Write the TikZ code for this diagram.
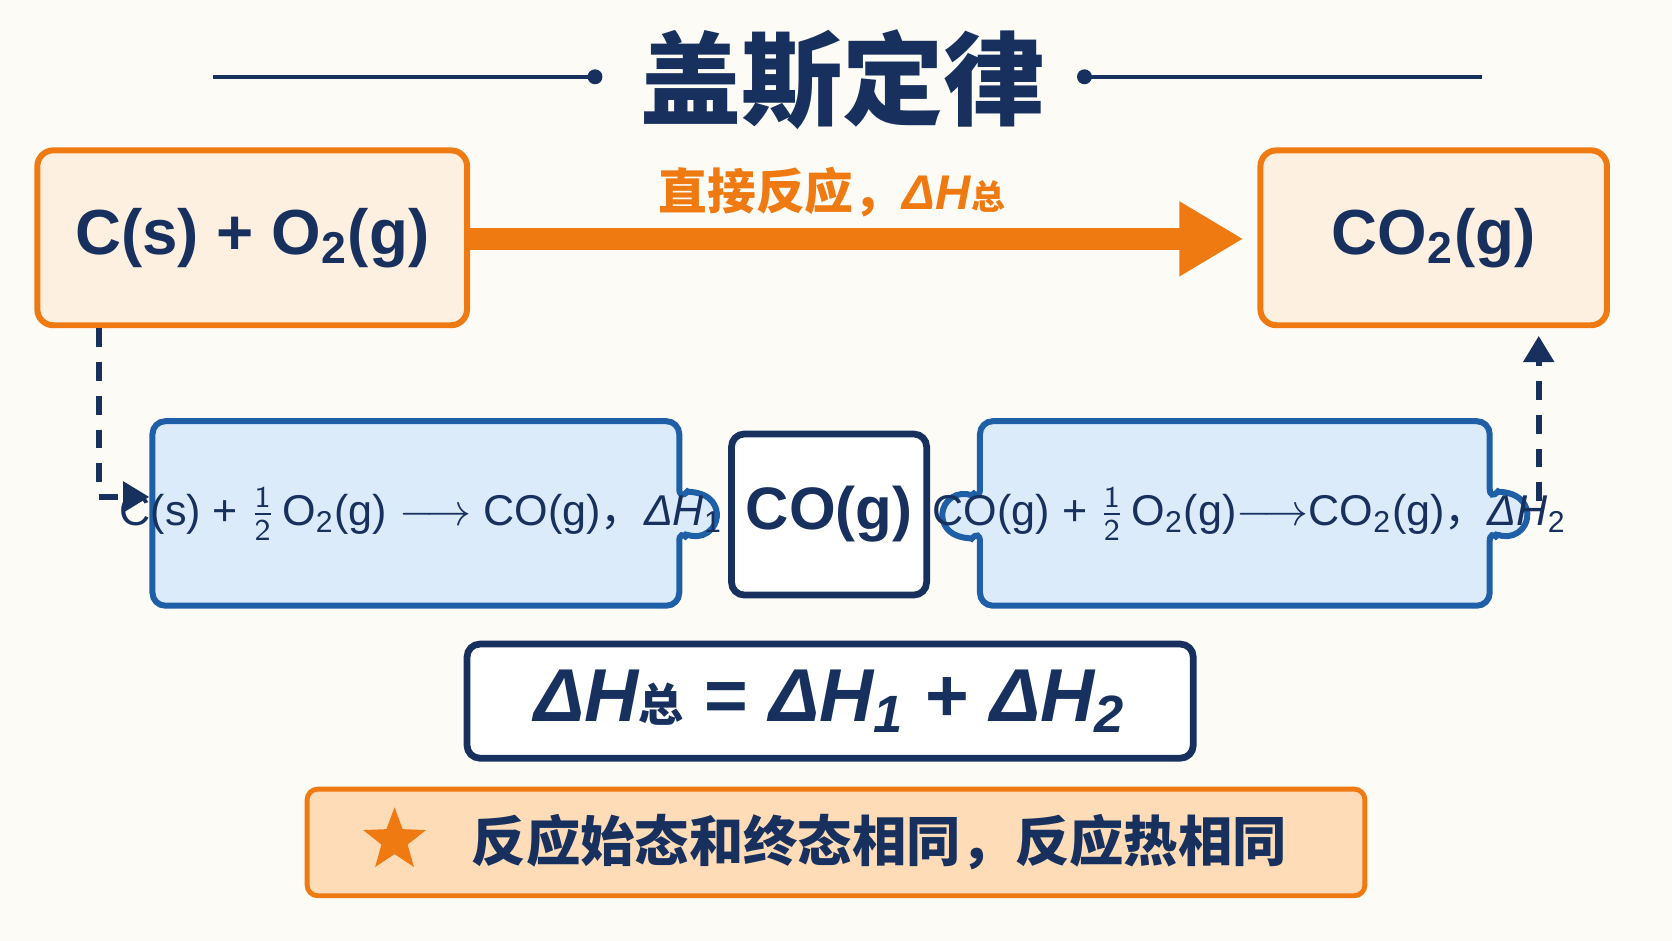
\documentclass[tikz,border=0pt]{standalone}
\usepackage{fontspec}
\setmainfont{Liberation Sans}
\newfontfamily\cjk{Noto Sans CJK SC}
\usetikzlibrary{shapes.geometric,arrows.meta}
\definecolor{navy}{HTML}{17305E}
\definecolor{org}{HTML}{F07A12}
\definecolor{orgfill}{HTML}{FDF0E0}
\definecolor{blu}{HTML}{1F5FA8}
\definecolor{blufill}{HTML}{DCEBFA}
\definecolor{bg}{HTML}{FDFBF6}
\begin{document}
\begin{tikzpicture}[
 obox/.style={draw=org,fill=orgfill,line width=1.6pt,rounded corners=0.15cm},
 nbox/.style={draw=navy,fill=white,line width=1.8pt,rounded corners=0.12cm},
 bbox/.style={draw=blu,fill=blufill,line width=1.6pt,rounded corners=0.12cm},
 dashconn/.style={draw=navy,line width=1.5pt,dash pattern=on 5pt off 4pt,-{Triangle[length=7pt,width=8pt]}},
 txt/.style={text=navy,font=\bfseries}]
\fill[bg] (0,0) rectangle (15.68,-8.82);
\useasboundingbox (0,0) rectangle (15.68,-8.82);
% title
\node[txt,font=\cjk\bfseries\fontsize{27}{30}\selectfont] (title) at (7.9,-0.75) {盖斯定律};
\coordinate (ld) at (5.58,-0.72); \coordinate (rd) at (10.17,-0.72);
\draw[navy,line width=1pt] (2.0,-0.72) -- (ld);
\draw[navy,line width=1pt] (rd) -- (13.9,-0.72);
\fill[navy] (ld) circle (0.07) (rd) circle (0.07);
% top boxes
\node[obox,minimum width=4.03cm,minimum height=1.64cm,txt,font=\bfseries\fontsize{17}{20}\selectfont] (A) at (2.365,-2.23) {C(s) + O\textsubscript{2}(g)};
\node[obox,minimum width=3.25cm,minimum height=1.64cm,txt,font=\bfseries\fontsize{17}{20}\selectfont] (B) at (13.445,-2.23) {CO\textsubscript{2}(g)};
\draw[org,line width=6pt,-{Triangle[length=0.6cm,width=0.66cm]}] (A.east|-0,-2.24) -- (11.66,-2.24) coordinate (ae);
\node[text=org,font=\bfseries\fontsize{13}{15}\selectfont] (lab) at (7.8,-1.8) {{\cjk 直接反应，}\textit{ΔH}{\cjk\fontsize{9}{10}\selectfont 总}};
% blue boxes
\draw[bbox] (1.43,-3.95) -- (6.37,-3.95) -- (6.37,-4.70) arc[start angle=140,end angle=-140,radius=0.2] -- (6.37,-5.68) -- (1.43,-5.68) -- cycle;
\node[txt,font=\fontsize{11.5}{13}\selectfont] (e1) at (3.95,-4.82) {C(s) + $\frac{\mathsf{1}}{\mathsf{2}}$\,O\textsubscript{2}(g) $\longrightarrow$ CO(g){\cjk ，}\textit{ΔH}\textsubscript{1}};
\draw[bbox] (9.19,-3.95) -- (13.97,-3.95) -- (13.97,-4.70) arc[start angle=140,end angle=-140,radius=0.2] -- (13.97,-5.68) -- (9.19,-5.68) -- (9.19,-4.96) arc[start angle=-40,end angle=-320,radius=0.2] -- cycle;
\node[txt,font=\fontsize{11.5}{13}\selectfont] (e2) at (11.72,-4.82) {CO(g) + $\frac{\mathsf{1}}{\mathsf{2}}$\,O\textsubscript{2}(g)$\longrightarrow$CO\textsubscript{2}(g){\cjk ，}\textit{ΔH}\textsubscript{2}};
\node[nbox,minimum width=1.83cm,minimum height=1.51cm,txt,font=\bfseries\fontsize{16}{19}\selectfont] (C) at (7.775,-4.825) {CO(g)};
% dashed arrows
\coordinate (dl) at (1.40,-4.66);
\draw[dashconn] (0.93,-3.08) |- (dl);
\coordinate (dr) at (14.43,-4.70);
\draw[dashconn] (dr) -- (14.43,-3.15);
% formula
\node[nbox,minimum width=6.81cm,minimum height=1.07cm,txt,font=\bfseries\itshape\fontsize{20}{24}\selectfont] (F) at (7.785,-6.575) {ΔH{\cjk\upshape\fontsize{12}{12}\selectfont 总}\;\upshape = \itshape ΔH\textsubscript{1} \upshape + \itshape ΔH\textsubscript{2}};
% bottom
\node[obox,fill=orange!25!bg,line width=1.3pt,rounded corners=0.1cm,minimum width=9.92cm,minimum height=1.0cm] (G) at (7.84,-7.9) {};
\node[star,star points=5,star point ratio=2.4,fill=org,minimum size=0.62cm,inner sep=0pt] (st) at (3.7,-7.88) {};
\node[txt,font=\cjk\bfseries\fontsize{14.5}{17}\selectfont,anchor=west] (gt) at (4.3,-7.9) {反应始态和终态相同，反应热相同};
\end{tikzpicture}
\end{document}
